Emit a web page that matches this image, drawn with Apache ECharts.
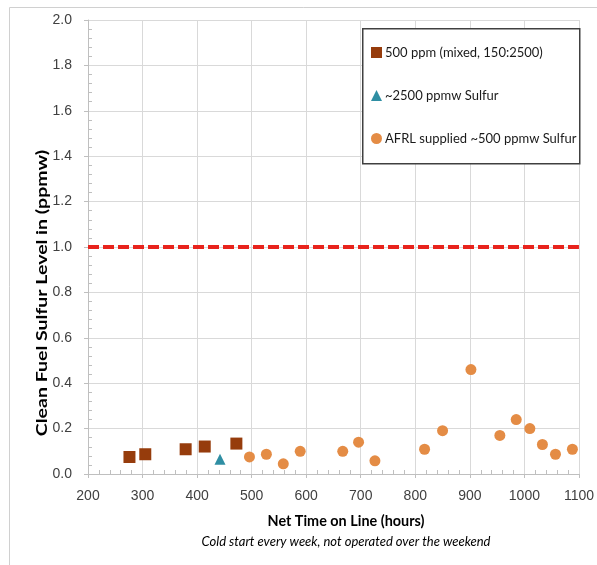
<!DOCTYPE html>
<html><head><meta charset="utf-8">
<script src="https://cdn.jsdelivr.net/npm/echarts@6/dist/echarts.min.js"></script>
<style>html,body{margin:0;padding:0;background:#fff}#c{width:597px;height:565px}</style>
</head><body><div id="c"></div>
<script>
// Data
const mixedX = [276, 305, 379, 414, 472];
const mixedY = [0.075, 0.087, 0.109, 0.121, 0.134];
const sulfur2500X = [442];
const sulfur2500Y = [0.065];
const afrlX = [496, 527, 558, 589, 667, 696, 726, 817, 850, 902, 955, 985, 1010, 1033, 1057, 1088];
const afrlY = [0.075, 0.087, 0.045, 0.100, 0.100, 0.140, 0.058, 0.109, 0.191, 0.460, 0.170, 0.240, 0.200, 0.130, 0.087, 0.109];
const limitX = [200, 1100];
const limitY = [1.0, 1.0];
const seriesNames = ['500 ppm (mixed, 150:2500)', '~2500 ppmw Sulfur', 'AFRL supplied ~500 ppmw Sulfur'];
const xTitle = 'Net Time on Line (hours)';
const yTitle = 'Clean Fuel Sulfur Level in (ppmw)';
const note = 'Cold start every week, not operated over the weekend';

const zip = (a, b) => a.map((v, i) => [v, b[i]]);
const font = 'Lato, "Open Sans", sans-serif';
const tickFont = '"Liberation Sans Narrow", "Liberation Sans", sans-serif';
const chart = echarts.init(document.getElementById('c'));
chart.setOption({
  animation: false,
  backgroundColor: '#fff',
  grid: {left: 88, right: 14, top: 20, bottom: 91},
  xAxis: [{
    type: 'value', min: 200, max: 1100, interval: 100,
    axisLine: {show: true, lineStyle: {color: '#bfbfbf'}},
    axisTick: {show: true, length: 4, lineStyle: {color: '#bfbfbf'}},
    axisLabel: {color: '#404040', fontSize: 14, fontFamily: tickFont, margin: 15, formatter: v => String(v)},
    splitLine: {show: true, lineStyle: {color: '#d9d9d9'}}
  }, {
    type: 'value', min: 200, max: 1100, interval: 100, position: 'bottom',
    axisLine: {show: false}, axisLabel: {show: false}, splitLine: {show: false},
    axisTick: {show: true, inside: true, length: 0.01, lineStyle: {color: 'rgba(0,0,0,0)'}},
    minorTick: {show: true, splitNumber: 5, length: 4, lineStyle: {color: '#bfbfbf'}}
  }],
  yAxis: [{
    type: 'value', min: 0, max: 2, interval: 0.2,
    axisLine: {show: true, lineStyle: {color: '#bfbfbf'}},
    axisTick: {show: true, length: 4, lineStyle: {color: '#bfbfbf'}},
    axisLabel: {color: '#404040', fontSize: 14, fontFamily: tickFont, margin: 16, formatter: v => v.toFixed(1)},
    splitLine: {show: true, lineStyle: {color: '#d9d9d9'}}
  }, {
    type: 'value', min: 0, max: 2, interval: 0.2, position: 'left',
    axisLine: {show: false}, axisLabel: {show: false}, splitLine: {show: false},
    axisTick: {show: true, inside: true, length: 0.01, lineStyle: {color: 'rgba(0,0,0,0)'}},
    minorTick: {show: true, splitNumber: 5, length: 4, lineStyle: {color: '#bfbfbf'}}
  }],
  legend: {
    orient: 'vertical', left: 366, top: 41, itemGap: 30, z: 10,
    itemWidth: 11, itemHeight: 11,
    textStyle: {fontSize: 13, color: '#1a1a1a', fontFamily: font, padding: [0, 0, 0, -2]},
    data: [
      {name: seriesNames[0], icon: 'rect'},
      {name: seriesNames[1], icon: 'triangle'},
      {name: seriesNames[2], icon: 'circle'}
    ]
  },
  graphic: [
    {type: 'rect', left: 7, top: 5, shape: {width: 600, height: 600}, style: {fill: null, stroke: '#d0d0d0', lineWidth: 1}, z: -1, silent: true},
    {type: 'rect', left: 362, top: 28, shape: {width: 217, height: 135}, style: {fill: '#fff', stroke: '#404040', lineWidth: 1.5}, z: 5},
    {type: 'text', x: 346, y: 521, scaleX: 0.96, style: {text: xTitle, font: 'bold 15px ' + font, fill: '#000', align: 'center', verticalAlign: 'middle'}, z: 6},
    {type: 'text', x: 346, y: 542, style: {text: note, font: 'italic 13px ' + font, fill: '#000', align: 'center', verticalAlign: 'middle'}, z: 6},
    {type: 'text', x: 42, y: 293, rotation: Math.PI / 2, scaleX: 1.3, style: {text: yTitle, font: 'bold 15px ' + font, fill: '#000', align: 'center', verticalAlign: 'middle'}, z: 6}
  ],
  series: [
    {name: 'limit', type: 'line', data: zip(limitX, limitY), symbol: 'none', silent: true,
     lineStyle: {color: '#e8231c', width: 4, type: [11, 4]}, z: 2},
    {name: seriesNames[0], type: 'scatter', symbol: 'rect', symbolSize: 12, data: zip(mixedX, mixedY),
     itemStyle: {color: '#963c0c', opacity: 1}, z: 3},
    {name: seriesNames[1], type: 'scatter', symbol: 'triangle', symbolSize: 11, data: zip(sulfur2500X, sulfur2500Y),
     itemStyle: {color: '#2f8ea3', opacity: 1}, z: 3},
    {name: seriesNames[2], type: 'scatter', symbol: 'circle', symbolSize: 11, data: zip(afrlX, afrlY),
     itemStyle: {color: '#e48c45', opacity: 1}, z: 3}
  ]
});
</script></body></html>
